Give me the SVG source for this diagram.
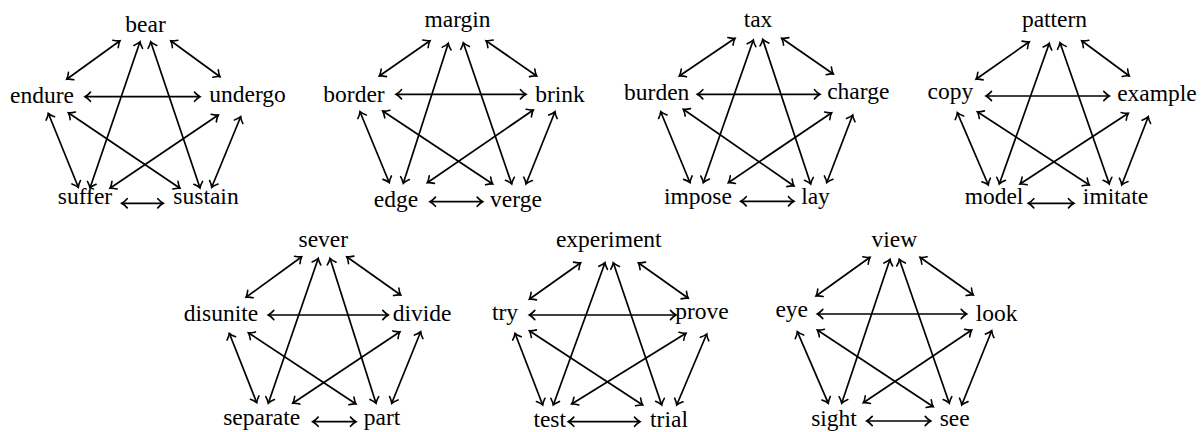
<svg xmlns="http://www.w3.org/2000/svg" width="1204" height="432" viewBox="0 0 1204 432">
<style>
text{font-family:"Liberation Serif","Times New Roman",serif;font-size:23.5px;fill:#000;text-anchor:middle}
.e line{stroke:#000;stroke-width:1.7;fill:none;marker-start:url(#a);marker-end:url(#a)}
</style>
<defs>
<marker id="a" viewBox="-8 -6 10 12" refX="0" refY="0" markerWidth="10" markerHeight="12" orient="auto-start-reverse" markerUnits="userSpaceOnUse">
<path d="M-5.5,-4.6 C-3.2,-2 -1,-0.5 0,0 C-1,0.5 -3.2,2 -5.5,4.6" fill="none" stroke="#000" stroke-width="1.6" stroke-linecap="round"/>
</marker>
</defs>
<rect width="1204" height="432" fill="#fff"/>
<g id="g1">
<g id="bear"><text x="145.5" y="32">bear</text></g>
<g id="endure"><text x="42" y="103">endure</text></g>
<g id="undergo"><text x="247.5" y="101.5">undergo</text></g>
<g id="suffer"><text x="85" y="204">suffer</text></g>
<g id="sustain"><text x="206" y="204">sustain</text></g>
</g>
<g id="g2">
<g id="margin"><text x="457.5" y="27">margin</text></g>
<g id="border"><text x="354" y="101.7">border</text></g>
<g id="brink"><text x="560" y="101.7">brink</text></g>
<g id="edge"><text x="396" y="207">edge</text></g>
<g id="verge"><text x="516" y="206.5">verge</text></g>
</g>
<g id="g3">
<g id="tax"><text x="758" y="27.3">tax</text></g>
<g id="burden"><text x="656.7" y="100">burden</text></g>
<g id="charge"><text x="858.3" y="99.3">charge</text></g>
<g id="impose"><text x="698" y="204">impose</text></g>
<g id="lay"><text x="815.5" y="204">lay</text></g>
</g>
<g id="g4">
<g id="pattern"><text x="1054.5" y="27.3">pattern</text></g>
<g id="copy"><text x="950.3" y="99.3">copy</text></g>
<g id="example"><text x="1157" y="100.7">example</text></g>
<g id="model"><text x="994" y="204">model</text></g>
<g id="imitate"><text x="1115.5" y="204">imitate</text></g>
</g>
<g id="g5">
<g id="sever"><text x="323.3" y="246.7">sever</text></g>
<g id="disunite"><text x="221" y="321">disunite</text></g>
<g id="divide"><text x="422" y="321">divide</text></g>
<g id="separate"><text x="261.7" y="425">separate</text></g>
<g id="part"><text x="382" y="425">part</text></g>
</g>
<g id="g6">
<g id="experiment"><text x="608.8" y="247.3">experiment</text></g>
<g id="try"><text x="505" y="320">try</text></g>
<g id="prove"><text x="702" y="319.3">prove</text></g>
<g id="test"><text x="549.7" y="426.5">test</text></g>
<g id="trial"><text x="669" y="426.5">trial</text></g>
</g>
<g id="g7">
<g id="view"><text x="894.3" y="247.3">view</text></g>
<g id="eye"><text x="791.7" y="317">eye</text></g>
<g id="look"><text x="996.7" y="321">look</text></g>
<g id="sight"><text x="834" y="426">sight</text></g>
<g id="see"><text x="954.7" y="426">see</text></g>
</g>
<g id="connectors" class="e">
<line x1="120" y1="40.7" x2="66.7" y2="79.3"/>
<line x1="170.7" y1="40.7" x2="220" y2="76.7"/>
<line x1="140" y1="41.7" x2="90" y2="188"/>
<line x1="150.7" y1="41.7" x2="200" y2="188"/>
<line x1="85" y1="96.7" x2="200" y2="96.7"/>
<line x1="48.3" y1="113.3" x2="78.3" y2="187.3"/>
<line x1="68.3" y1="112.7" x2="180" y2="188.3"/>
<line x1="218.3" y1="115" x2="110" y2="188.3"/>
<line x1="240.7" y1="116.7" x2="211.7" y2="187.3"/>
<line x1="121.7" y1="203.3" x2="163.3" y2="203.3"/>

<line x1="430" y1="40.7" x2="379.3" y2="76"/>
<line x1="486" y1="40.7" x2="536.7" y2="76"/>
<line x1="448.3" y1="43.3" x2="403.3" y2="183.3"/>
<line x1="463.3" y1="42.7" x2="511.7" y2="184"/>
<line x1="396" y1="94.3" x2="526" y2="94.3"/>
<line x1="360" y1="111.7" x2="389.3" y2="182.7"/>
<line x1="382.7" y1="111" x2="492.7" y2="184"/>
<line x1="533.3" y1="110" x2="427.3" y2="182.7"/>
<line x1="555" y1="111.7" x2="526" y2="184"/>
<line x1="430" y1="201.7" x2="482.7" y2="201.7"/>

<line x1="735" y1="38.3" x2="679.3" y2="76"/>
<line x1="781.7" y1="38.3" x2="833.3" y2="74"/>
<line x1="753.3" y1="40" x2="703.3" y2="182.7"/>
<line x1="762.7" y1="39.3" x2="810.7" y2="184"/>
<line x1="697.3" y1="94.3" x2="820" y2="94.3"/>
<line x1="660.7" y1="111.7" x2="690" y2="182.7"/>
<line x1="683.3" y1="109.3" x2="794" y2="186"/>
<line x1="831.7" y1="112.7" x2="728.3" y2="182.7"/>
<line x1="852.7" y1="115" x2="826.7" y2="182.7"/>
<line x1="740.7" y1="201.3" x2="794" y2="201.3"/>

<line x1="1029.3" y1="41.7" x2="976" y2="79.3"/>
<line x1="1081.7" y1="40.7" x2="1129.3" y2="76"/>
<line x1="1049.3" y1="43.3" x2="999.3" y2="184"/>
<line x1="1060" y1="42.7" x2="1109.3" y2="184"/>
<line x1="986" y1="96" x2="1109.3" y2="96"/>
<line x1="957.3" y1="112.7" x2="988.3" y2="185"/>
<line x1="977.3" y1="111.7" x2="1089.3" y2="185"/>
<line x1="1128.3" y1="113.3" x2="1020" y2="184"/>
<line x1="1148.3" y1="116.7" x2="1121.7" y2="185"/>
<line x1="1028.3" y1="203.3" x2="1074" y2="203.3"/>

<line x1="301.7" y1="256.7" x2="246" y2="297.3"/>
<line x1="346.7" y1="256.7" x2="400.7" y2="295"/>
<line x1="318.3" y1="258.3" x2="268.3" y2="403.3"/>
<line x1="330" y1="258.3" x2="376" y2="403.3"/>
<line x1="268.3" y1="315" x2="388.3" y2="315"/>
<line x1="229.3" y1="333.3" x2="256.7" y2="402.7"/>
<line x1="248.3" y1="332.7" x2="356" y2="404"/>
<line x1="400" y1="331.7" x2="292.7" y2="403.3"/>
<line x1="420.7" y1="331.7" x2="391.7" y2="403.3"/>
<line x1="312.7" y1="421.7" x2="356" y2="421.7"/>

<line x1="580.7" y1="262.7" x2="529.3" y2="299.3"/>
<line x1="638.3" y1="262.7" x2="688.3" y2="298.3"/>
<line x1="605" y1="262.7" x2="553.3" y2="405"/>
<line x1="613.3" y1="262.7" x2="661.7" y2="405"/>
<line x1="529.3" y1="315" x2="676" y2="315"/>
<line x1="515" y1="333.3" x2="542.7" y2="405"/>
<line x1="529.3" y1="330.7" x2="642.7" y2="405"/>
<line x1="686" y1="333.3" x2="571.7" y2="404"/>
<line x1="706.7" y1="334" x2="676.7" y2="405"/>
<line x1="568.3" y1="421.7" x2="640" y2="421.7"/>

<line x1="870" y1="257.3" x2="816" y2="296"/>
<line x1="920" y1="257.3" x2="973.3" y2="295"/>
<line x1="890" y1="259.3" x2="841.7" y2="403.3"/>
<line x1="899.3" y1="259.3" x2="949.3" y2="403.3"/>
<line x1="817.3" y1="314" x2="966.7" y2="314"/>
<line x1="797.3" y1="331.7" x2="828.3" y2="403.3"/>
<line x1="817.3" y1="330" x2="933.3" y2="406.7"/>
<line x1="971.7" y1="330" x2="863.3" y2="402.7"/>
<line x1="991.7" y1="330.7" x2="961.7" y2="405"/>
<line x1="866.7" y1="421" x2="930.7" y2="421"/>
</g>
</svg>
